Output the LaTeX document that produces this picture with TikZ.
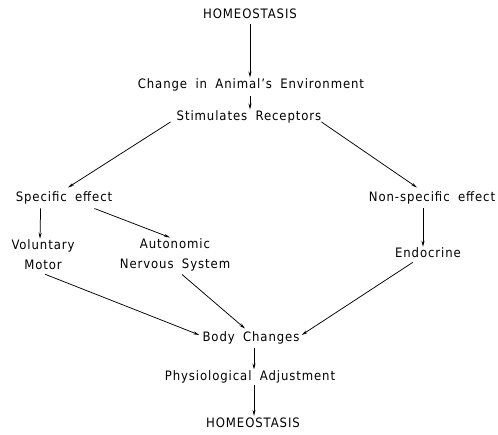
\documentclass[tikz,border=0pt]{standalone}
\usepackage{fontspec}
\setmainfont{DejaVu Sans Condensed}[LetterSpace=7,WordSpace=1.8]
\usetikzlibrary{arrows.meta,calc}
\begin{document}
\begin{tikzpicture}[x=1pt,y=-1pt,
  lbl/.style={inner sep=0pt,font=\fontsize{13}{20}\selectfont,align=center},
  conn/.style={line width=0.75pt,-{Stealth[length=6pt,width=3pt]}}]
\useasboundingbox (0,0) rectangle (498,435);
% labels
\node[lbl] (top) at (250,14) {HOMEOSTASIS};
\node[lbl] (env) at (251,85) {Change in Animal{\char"0027}s Environment};
\node[lbl] (stim) at (249,117) {Stimulates Receptors};
\node[lbl] (spec) at (64,198) {Specific effect};
\node[lbl] (nonspec) at (432,198) {Non-specific effect};
\node[lbl] (vol) at (43,255) {Voluntary\\Motor};
\node[lbl] (auto) at (175,255) {Autonomic\\Nervous System};
\node[lbl] (endo) at (428,253) {Endocrine};
\node[lbl] (body) at (251,338) {Body Changes};
\node[lbl] (phys) at (250,377) {Physiological Adjustment};
\node[lbl] (bot) at (253,423) {HOMEOSTASIS};
% connectors
\draw[conn] ($(top.south)+(0,5)$) -- ($(env.north)+(-1,-1)$);
\draw[conn] ($(env.south)+(-1,5)$) -- ($(stim.north)+(1,-1)$);
\draw[conn] ($(stim.west)+(-6,5)$) -- ($(spec.north)+(4,-4)$);
\draw[conn] ($(stim.east)+(0,5)$) -- ($(nonspec.north)+(-15,-4)$);
\draw[conn] ($(spec.south west)+(25,4)$) -- ($(vol.north)+(-3,-1)$);
\draw[conn] ($(spec.south east)+(-18,4)$) -- ($(auto.north)+(-5,-1)$);
\draw[conn] ($(nonspec.south)+(-9,4)$) -- ($(endo.north)+(-5,-1)$);
\draw[conn] ($(vol.south)+(2,4)$) -- ($(body.west)+(-3,-3)$);
\draw[conn] ($(auto.south)+(7,3)$) -- ($(body.north)+(-6,-3)$);
\draw[conn] ($(endo.south)+(-15,4)$) -- ($(body.east)+(2,-3)$);
\draw[conn] ($(body.south)+(3,4)$) -- ($(phys.north)+(4,-1)$);
\draw[conn] ($(phys.south)+(4,2)$) -- ($(bot.north)+(1,-2)$);
\end{tikzpicture}
\end{document}
